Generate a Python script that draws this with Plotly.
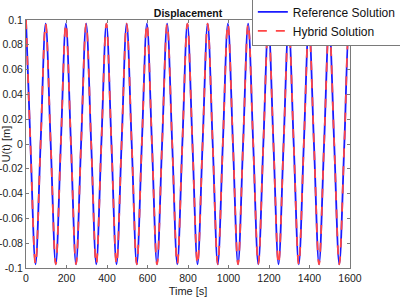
import plotly.graph_objects as go

# Time samples (s): start, then every zero crossing / extremum
time_ref = [0, 22, 47, 72, 97, 122, 147, 172, 197, 222, 247, 272, 297, 322, 347, 372, 397,
            422, 447, 472, 497, 522, 547, 572, 597, 622, 647, 672, 697, 722, 747, 772, 797,
            822, 847, 872, 897, 922, 947, 972, 997, 1022, 1047, 1072, 1097, 1122, 1147, 1172, 1197,
            1222, 1247, 1272, 1297, 1322, 1347, 1372, 1397, 1422, 1447, 1472, 1497, 1522, 1547, 1572, 1597,
            1600]
u_ref = [0.1, 0, -0.097, 0, 0.097, 0, -0.097, 0, 0.097, 0, -0.097, 0, 0.097, 0, -0.097, 0, 0.097,
         0, -0.097, 0, 0.097, 0, -0.097, 0, 0.097, 0, -0.097, 0, 0.097, 0, -0.097, 0, 0.097,
         0, -0.097, 0, 0.097, 0, -0.097, 0, 0.097, 0, -0.097, 0, 0.097, 0, -0.097, 0, 0.097,
         0, -0.097, 0, 0.097, 0, -0.097, 0, 0.097, 0, -0.097, 0, 0.097, 0, -0.097, 0, 0.097,
         0.0965]

time_hyb = list(time_ref)
u_hyb = [0.1, 0, -0.097, 0, 0.097, 0, -0.097, 0, 0.097, 0, -0.097, 0, 0.097, 0, -0.097, 0, 0.097,
         0, -0.097, 0, 0.097, 0, -0.097, 0, 0.097, 0, -0.097, 0, 0.097, 0, -0.097, 0, 0.097,
         0, -0.097, 0, 0.097, 0, -0.097, 0, 0.097, 0, -0.097, 0, 0.097, 0, -0.097, 0, 0.097,
         0, -0.097, 0, 0.097, 0, -0.097, 0, 0.097, 0, -0.097, 0, 0.097, 0, -0.097, 0, 0.097,
         0.0965]

y_ticks = [-0.1, -0.08, -0.06, -0.04, -0.02, 0, 0.02, 0.04, 0.06, 0.08, 0.1]
y_ticktext = ["-0.1", "-0.08", "-0.06", "-0.04", "-0.02", "0", "0.02", "0.04", "0.06", "0.08", "0.1"]
x_ticks = [0, 200, 400, 600, 800, 1000, 1200, 1400, 1600]

FONT = "Liberation Sans, Arial, sans-serif"

fig = go.Figure()
fig.add_trace(go.Scatter(x=time_ref, y=u_ref, mode="lines", name="Reference Solution",
                         line=dict(color="#1a1aff", width=1.8, shape="spline", smoothing=1)))
fig.add_trace(go.Scatter(x=time_hyb, y=u_hyb, mode="lines", name="Hybrid Solution",
                         line=dict(color="#ff4545", width=1.8, dash="dash", shape="spline", smoothing=1)))

axis_common = dict(showgrid=False, zeroline=False, showline=True, linecolor="#7a7a7a", linewidth=1,
                   mirror="allticks", ticks="inside", ticklen=3, tickcolor="#7a7a7a", automargin=False,
                   tickfont=dict(family=FONT, size=10.5, color="#222"))

fig.update_layout(
    width=400, height=302,
    margin=dict(l=26, r=50, t=20, b=34, autoexpand=False),
    paper_bgcolor="white", plot_bgcolor="white",
    title=dict(text="<b>Displacement</b>", x=0.5, xref="paper", xanchor="center",
               y=1 - 13 / 302, yanchor="middle", font=dict(family=FONT, size=10.5, color="#111")),
    xaxis=dict(range=[0, 1600], tickvals=x_ticks,
               title=dict(text="Time [s]", font=dict(family=FONT, size=11, color="#222"), standoff=4),
               **axis_common),
    yaxis=dict(range=[-0.1, 0.1], tickvals=y_ticks, ticktext=y_ticktext,
               title=dict(text="U(t) [m]", font=dict(family=FONT, size=11, color="#222"), standoff=2),
               **axis_common),
    legend=dict(x=1.16, xanchor="right", y=1.095, yanchor="top", bgcolor="white",
                bordercolor="#7a7a7a", borderwidth=1, font=dict(family=FONT, size=12, color="#111"),
                itemwidth=30, tracegroupgap=0),
    showlegend=True,
)

fig.write_html("out.html")
